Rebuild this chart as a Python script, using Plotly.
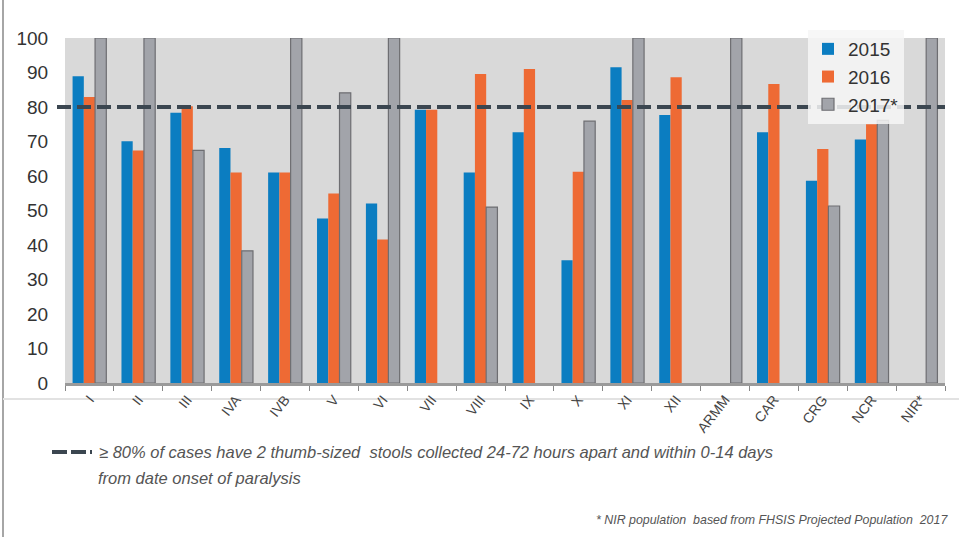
import plotly.graph_objects as go

regions = ["I", "II", "III", "IVA", "IVB", "V", "VI", "VII", "VIII", "IX", "X",
           "XI", "XII", "ARMM", "CAR", "CRG", "NCR", "NIR*"]
v2015 = [88.9, 70.1, 78.3, 68.1, 61.0, 47.7, 52.0, 79.2, 61.0, 72.7, 35.6,
         91.5, 77.7, None, 72.7, 58.6, 70.6, None]
v2016 = [82.9, 67.4, 80.2, 61.0, 61.0, 54.9, 41.6, 79.2, 89.6, 91.0, 61.2,
         82.0, 88.6, None, 86.7, 67.8, 75.0, None]
v2017 = [100, 100, 67.4, 38.3, 100, 84.1, 100, None, 51.0, None, 75.9,
         100, None, 100, None, 51.3, 76.1, 100]
series_names = ["2015", "2016", "2017*"]
THRESHOLD = 80
y_ticks = [0, 10, 20, 30, 40, 50, 60, 70, 80, 90, 100]

threshold_line1 = "≥ 80% of cases have 2 thumb-sized  stools collected 24-72 hours apart and within 0-14 days"
threshold_line2 = "from date onset of paralysis"
footnote = "* NIR population  based from FHSIS Projected Population  2017"

colors = ["#0b7dc1", "#ee6a34", "#a2a4aa"]
lines = [dict(width=0), dict(width=0), dict(color="#6e6e72", width=1.2)]

fig = go.Figure()
for name, vals, c, ln in zip(series_names, [v2015, v2016, v2017], colors, lines):
    fig.add_trace(go.Bar(x=regions, y=vals, name=name, marker=dict(color=c, line=ln)))

W, H = 959, 537
L, R, T, B = 65, 14, 38, 154
pw, ph = W - L - R, H - T - B

def px_x(px):
    return (px - L) / pw

def px_y(py):
    return (H - B - py) / ph

# threshold line
fig.add_shape(type="line", xref="paper", yref="y", x0=px_x(57), x1=1.0, y0=THRESHOLD, y1=THRESHOLD,
              line=dict(color="#3b4650", width=4, dash="14px,6px"), layer="above")
# bottom legend for threshold
fig.add_shape(type="line", xref="paper", yref="paper", x0=px_x(52), x1=px_x(92), y0=px_y(452), y1=px_y(452),
              line=dict(color="#3b4650", width=4, dash="15px,4px"))
note_font = dict(family="Liberation Sans", size=16.5, color="#555555", style="italic")
fig.add_annotation(xref="paper", yref="paper", x=px_x(97), y=px_y(452), xanchor="left", yanchor="middle",
                   text=threshold_line1, showarrow=False, font=note_font)
fig.add_annotation(xref="paper", yref="paper", x=px_x(96), y=px_y(478), xanchor="left", yanchor="middle",
                   text=threshold_line2, showarrow=False, font=note_font)
fig.add_annotation(xref="paper", yref="paper", x=px_x(950), y=px_y(520), xanchor="right", yanchor="middle",
                   text=footnote, showarrow=False,
                   font=dict(family="Liberation Sans", size=12.4, color="#555555", style="italic"))
# left border and lower separator
fig.add_shape(type="line", xref="paper", yref="paper", x0=px_x(3), x1=px_x(3), y0=px_y(0), y1=px_y(537),
              line=dict(color="#888888", width=1.5), layer="below")
fig.add_shape(type="line", xref="paper", yref="paper", x0=px_x(3), x1=px_x(959), y0=px_y(399), y1=px_y(399),
              line=dict(color="#e2e2e2", width=2), layer="below")

fig.update_layout(
    width=W, height=H,
    margin=dict(l=L, r=R, t=T, b=B, autoexpand=False),
    paper_bgcolor="white", plot_bgcolor="#d9d9d9",
    barmode="group", bargap=0.31, bargroupgap=0,
    font=dict(family="Liberation Sans", color="#333333"),
    legend=dict(x=px_x(808), y=px_y(30), xanchor="left", yanchor="top",
                bgcolor="rgba(246,246,246,0.85)", font=dict(size=19, color="#333333"),
                itemwidth=30, tracegroupgap=0),
    showlegend=True,
)
fig.update_xaxes(tickangle=-52, tickfont=dict(size=14, color="#444444"),
                 ticks="outside", tickson="boundaries", ticklen=5, tickcolor="#888888",
                 showline=True, linecolor="#9a9a9a", linewidth=3, showgrid=False)
fig.update_yaxes(range=[0, 100], tickvals=y_ticks, tickfont=dict(size=19, color="#333333"),
                 ticks="outside", ticklen=12, tickcolor="rgba(0,0,0,0)",
                 showgrid=False, zeroline=False)

fig.write_html("out.html", config={"displayModeBar": False},
               post_script="document.body.style.margin='0';")
